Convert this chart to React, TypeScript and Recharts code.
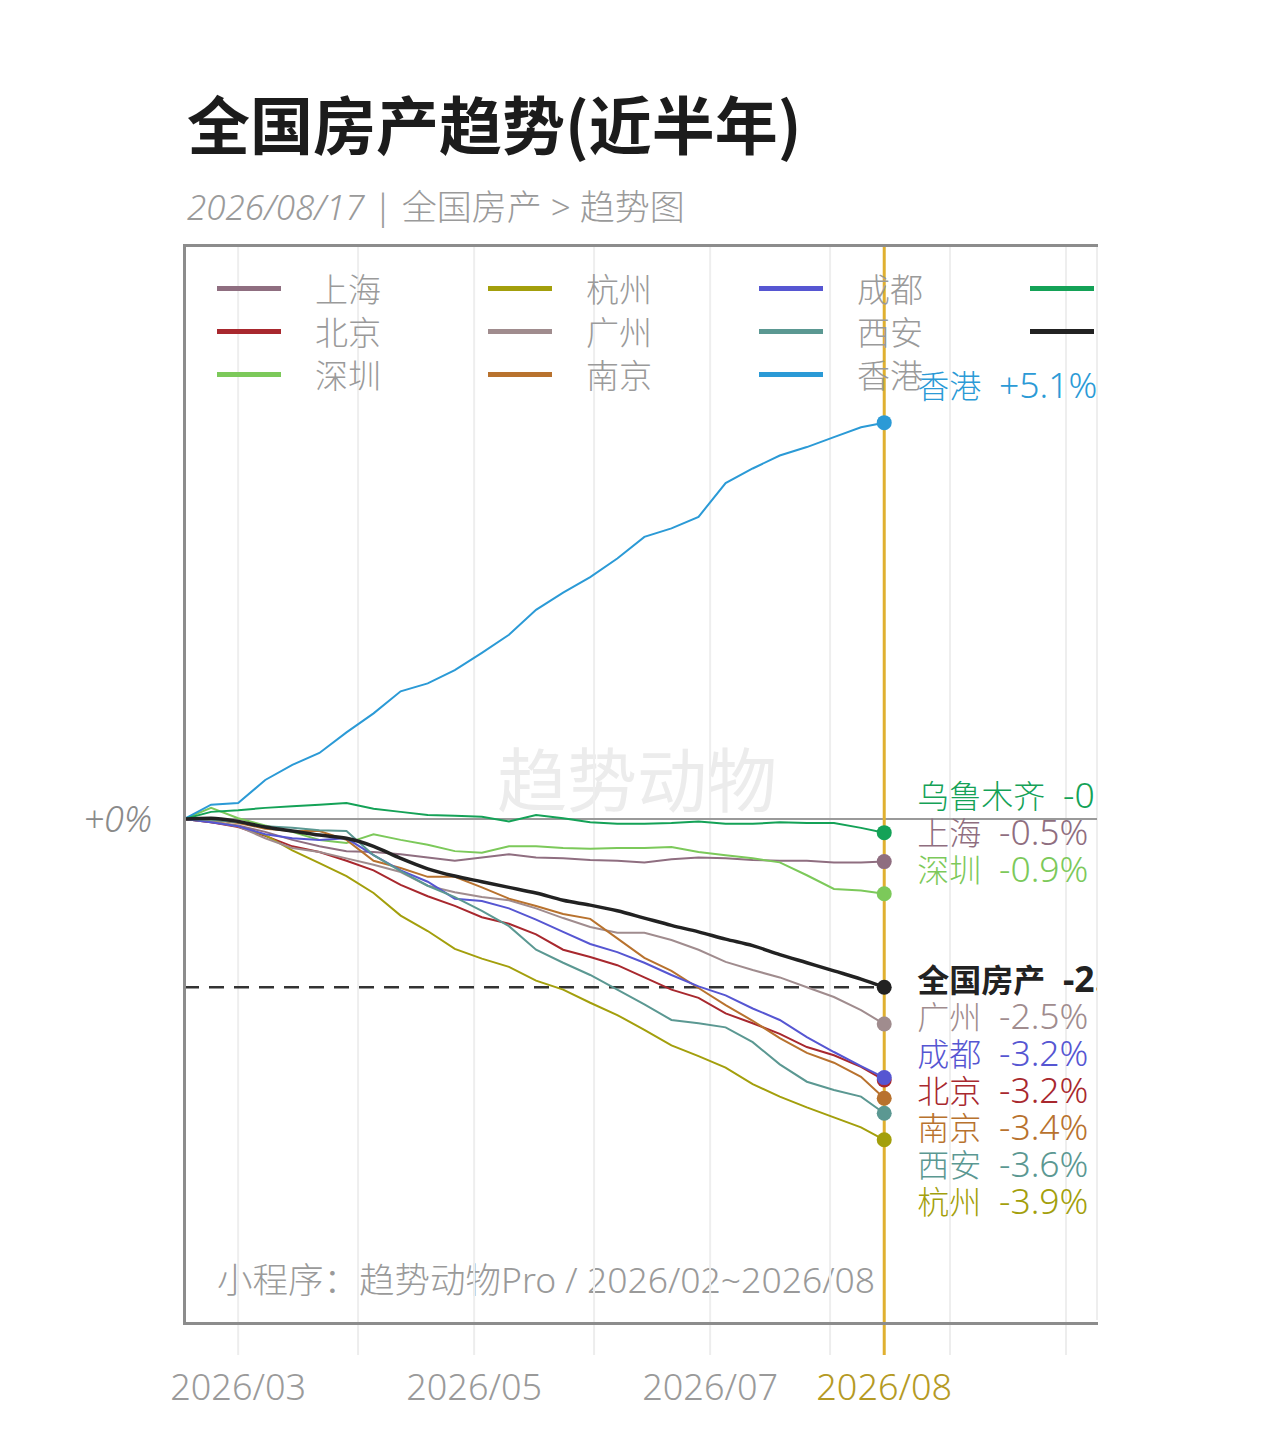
import React from 'react'
import { LineChart, Line, XAxis, YAxis, CartesianGrid, ReferenceLine } from 'recharts'

// weekly sample dates
const dates = [
  '2026-02-15', '2026-02-22', '2026-03-01', '2026-03-08', '2026-03-15', '2026-03-22', '2026-03-29',
  '2026-04-05', '2026-04-12', '2026-04-19', '2026-04-26', '2026-05-03', '2026-05-10', '2026-05-17',
  '2026-05-24', '2026-05-31', '2026-06-07', '2026-06-14', '2026-06-21', '2026-06-28', '2026-07-05',
  '2026-07-12', '2026-07-19', '2026-07-26', '2026-08-02', '2026-08-09', '2026-08-15',
]

// change since start, in %
const shanghai = [0, -0.04, -0.08, -0.16, -0.26, -0.34, -0.4, -0.41, -0.44, -0.48, -0.52, -0.48, -0.44, -0.48, -0.49, -0.51, -0.52, -0.54, -0.5, -0.48, -0.49, -0.51, -0.52, -0.52, -0.54, -0.54, -0.53]
const beijing = [0, -0.04, -0.1, -0.21, -0.34, -0.41, -0.52, -0.64, -0.82, -0.96, -1.08, -1.22, -1.3, -1.43, -1.62, -1.71, -1.81, -1.96, -2.11, -2.21, -2.4, -2.52, -2.65, -2.81, -2.91, -3.05, -3.21]
const shenzhen = [0, 0.14, 0.01, -0.08, -0.16, -0.26, -0.3, -0.19, -0.26, -0.32, -0.4, -0.42, -0.34, -0.34, -0.36, -0.37, -0.36, -0.36, -0.35, -0.41, -0.45, -0.49, -0.54, -0.7, -0.87, -0.89, -0.93]
const hangzhou = [0, -0.03, -0.09, -0.2, -0.39, -0.55, -0.71, -0.92, -1.2, -1.39, -1.61, -1.73, -1.83, -2.0, -2.11, -2.27, -2.42, -2.6, -2.79, -2.92, -3.06, -3.26, -3.41, -3.54, -3.66, -3.78, -3.93]
const guangzhou = [0, -0.03, -0.09, -0.24, -0.36, -0.41, -0.49, -0.57, -0.66, -0.83, -0.91, -0.97, -1.01, -1.11, -1.23, -1.34, -1.41, -1.41, -1.5, -1.62, -1.77, -1.87, -1.96, -2.08, -2.2, -2.36, -2.53]
const nanjing = [0, -0.01, -0.05, -0.12, -0.15, -0.15, -0.26, -0.52, -0.61, -0.72, -0.72, -0.85, -0.99, -1.08, -1.18, -1.24, -1.48, -1.72, -1.88, -2.09, -2.3, -2.49, -2.7, -2.88, -3.0, -3.17, -3.43]
const chengdu = [0, -0.04, -0.09, -0.19, -0.24, -0.26, -0.24, -0.45, -0.64, -0.78, -0.99, -1.02, -1.11, -1.25, -1.4, -1.55, -1.65, -1.78, -1.93, -2.07, -2.18, -2.34, -2.48, -2.69, -2.87, -3.04, -3.18]
const xian = [0, -0.01, -0.04, -0.09, -0.11, -0.14, -0.15, -0.45, -0.65, -0.83, -0.97, -1.14, -1.33, -1.62, -1.78, -1.93, -2.11, -2.29, -2.48, -2.52, -2.57, -2.75, -3.02, -3.23, -3.33, -3.41, -3.61]
const hongkong = [0, 0.18, 0.2, 0.49, 0.68, 0.83, 1.09, 1.33, 1.61, 1.71, 1.88, 2.1, 2.33, 2.65, 2.87, 3.07, 3.31, 3.59, 3.7, 3.85, 4.29, 4.48, 4.65, 4.76, 4.89, 5.02, 5.08]
const urumqi = [0, 0.09, 0.11, 0.14, 0.16, 0.18, 0.2, 0.13, 0.09, 0.05, 0.04, 0.03, -0.03, 0.05, 0.01, -0.04, -0.06, -0.06, -0.05, -0.03, -0.06, -0.06, -0.04, -0.05, -0.05, -0.11, -0.17]
const national = [0, 0.01, -0.03, -0.1, -0.15, -0.2, -0.24, -0.34, -0.49, -0.62, -0.71, -0.78, -0.85, -0.92, -1.01, -1.07, -1.14, -1.23, -1.32, -1.4, -1.49, -1.57, -1.68, -1.78, -1.88, -1.98, -2.08]

const names = ['上海', '北京', '深圳', '杭州', '广州', '南京', '成都', '西安', '香港', '乌鲁木齐', '全国房产']
const values = [shanghai, beijing, shenzhen, hangzhou, guangzhou, nanjing, chengdu, xian, hongkong, urumqi, national]
const colors = ['#8f6e80', '#a8282e', '#7cc95a', '#a39f0c', '#a08c8e', '#b8722e', '#5656d2', '#5b9892', '#2b9ad6', '#14a257', '#222222']
const NATIONAL = '全国房产'

const monthTicks = ['2026-03-01', '2026-04-01', '2026-05-01', '2026-06-01', '2026-07-01', '2026-08-01', '2026-09-01', '2026-10-01']
const tickLabels: Record<string, string> = { '2026-03-01': '2026/03', '2026-05-01': '2026/05', '2026-07-01': '2026/07' }
const latestLabel = '2026/08'
const xStart = '2026-02-15'
const xEnd = '2026-10-09'

const CJK = "'Noto Sans CJK SC', sans-serif"
const MIXED = "'Noto Sans', 'Noto Sans CJK SC', sans-serif"
const GOLD = '#e0b030'
const Y_MIN = 93.93
const Y_MAX = 107.44
const PLOT = { left: 184, top: 245, right: 1097, bottom: 1320 }
const X_AXIS_H = 80

const ts = (s: string) => Date.UTC(+s.slice(0, 4), +s.slice(5, 7) - 1, +s.slice(8, 10))
const last = dates.length - 1
const lastTs = ts(dates[last])

const data = dates.map((d, i) => {
  const row: Record<string, number> = { t: ts(d) }
  names.forEach((n, s) => (row[n] = 100 + values[s][i]))
  return row
})

// end labels: city labels sit above their dot, the national one beside it; overlaps pushed down
const K = (PLOT.bottom - PLOT.top) / Math.log(Y_MAX / Y_MIN)
const rel = values.map((v) => -K * Math.log(1 + v[last] / 100))
const labelOffset: number[] = new Array(names.length).fill(0)
{
  const order = names.map((_, i) => i).sort((a, b) => rel[a] - rel[b])
  let prev = -Infinity
  order.forEach((i) => {
    const lift = names[i] === NATIONAL ? 9 : 39
    const pos = Math.max(rel[i] - lift, prev + 37)
    labelOffset[i] = pos - rel[i]
    prev = pos
  })
}

const fmt = (p: number) => `${p >= 0 ? '+' : ''}${p.toFixed(1)}%`

const makeDot = (si: number) => (props: any) => {
  const { cx, cy, index } = props
  if (index !== last) return <g key={`d${si}-${index}`} />
  const bold = names[si] === NATIONAL
  return (
    <g key={`d${si}-${index}`}>
      <circle cx={cx} cy={cy} r={7.5} fill={colors[si]} />
      <text
        x={cx + 33}
        y={cy + labelOffset[si]}
        dominantBaseline="central"
        fontWeight={bold ? 700 : 300}
        fill={colors[si]}
        style={{ whiteSpace: 'pre' }}
      >
        <tspan fontSize={32} fontFamily={CJK}>{names[si]}</tspan>
        <tspan fontSize={35.5} fontFamily={MIXED}>{'\u2002' + fmt(values[si][last])}</tspan>
      </text>
    </g>
  )
}

const XTick = (props: any) => {
  const { x, y, payload } = props
  const isLast = payload.value === lastTs
  const key = monthTicks.find((m) => ts(m) === payload.value)
  const label = isLast ? latestLabel : key ? tickLabels[key] : undefined
  return (
    <g>
      <line x1={x} x2={x} y1={y} y2={y + 35} stroke={isLast ? GOLD : '#ededed'} strokeWidth={isLast ? 3 : 2} />
      {label && (
        <text
          x={x}
          y={y + 66}
          textAnchor="middle"
          dominantBaseline="central"
          fontSize={36}
          fontWeight={300}
          fill={isLast ? '#b59a24' : '#9a9a9a'}
          fontFamily={MIXED}
        >
          {label}
        </text>
      )}
    </g>
  )
}

const abs = (left: number, top: number, extra: React.CSSProperties = {}): React.CSSProperties => ({
  position: 'absolute',
  left,
  top,
  whiteSpace: 'nowrap',
  fontFamily: MIXED,
  ...extra,
})

export default function App() {
  return (
    <div style={{ position: 'absolute', left: 0, top: 0, width: 1280, height: 1443, background: '#fff', fontFamily: CJK }}>
      <div style={abs(187, 90, { fontFamily: CJK, fontSize: 63, lineHeight: '63px', fontWeight: 700, color: '#1c1c1c' })}>
        全国房产趋势(近半年)
      </div>
      <div style={abs(187, 189, { fontSize: 35, lineHeight: '35px', fontWeight: 300, color: '#9a9a9a' })}>
        <span style={{ fontStyle: 'italic' }}>2026/08/17</span> | 全国房产 &gt; 趋势图
      </div>
      <div style={abs(0, 801, { width: 152, textAlign: 'right', fontSize: 36, lineHeight: '36px', fontStyle: 'italic', fontWeight: 300, color: '#8a8a8a' })}>
        +0%
      </div>

      <div style={{ position: 'absolute', left: 0, top: 0, width: PLOT.right + 1, height: 1443, overflow: 'hidden' }}>
        <div style={abs(497, 742, { fontFamily: CJK, fontSize: 70, lineHeight: '70px', color: '#ececec' })}>趋势动物</div>
        <div style={abs(217, 1262, { fontSize: 35.5, lineHeight: '35px', fontWeight: 300, color: '#9a9a9a' })}>
          小程序：趋势动物Pro / 2026/02~2026/08
        </div>
        <div style={{ position: 'absolute', left: 0, top: 0 }}>
          <LineChart
            width={1280}
            height={1443}
            data={data}
            margin={{ top: PLOT.top, left: PLOT.left, right: 1280 - PLOT.right, bottom: 1443 - PLOT.bottom - X_AXIS_H }}
          >
            <CartesianGrid horizontal={false} stroke="#eeeeee" strokeWidth={2} />
            <XAxis
              dataKey="t"
              type="number"
              domain={[ts(xStart), ts(xEnd)]}
              ticks={[...monthTicks.map(ts), lastTs]}
              tick={<XTick />}
              tickLine={false}
              axisLine={false}
              tickSize={0}
              tickMargin={0}
              height={X_AXIS_H}
              interval={0}
              allowDataOverflow
            />
            <YAxis hide type="number" scale="log" domain={[Y_MIN, Y_MAX]} allowDataOverflow />
            <ReferenceLine y={100} stroke="#9a9a9a" strokeWidth={2} />
            <ReferenceLine x={lastTs} stroke={GOLD} strokeWidth={3} />
            <ReferenceLine
              segment={[
                { x: ts(xStart), y: 100 + national[last] },
                { x: lastTs, y: 100 + national[last] },
              ]}
              stroke="#333"
              strokeWidth={2.5}
              strokeDasharray="15 10"
            />
            {names.map((n, si) => (
              <Line
                key={n}
                dataKey={n}
                type={n === NATIONAL ? 'monotone' : 'linear'}
                stroke={colors[si]}
                strokeWidth={n === NATIONAL ? 3.5 : 2}
                dot={makeDot(si)}
                activeDot={false}
                isAnimationActive={false}
              />
            ))}
          </LineChart>
        </div>
        {names.map((n, i) => (
          <div
            key={n}
            style={abs(217 + Math.floor(i / 3) * 271, 268 + (i % 3) * 43, {
              display: 'flex',
              alignItems: 'center',
              height: 40,
              fontFamily: CJK,
              fontSize: 33,
              fontWeight: 300,
              color: '#9a9a9a',
            })}
          >
            <span style={{ display: 'inline-block', width: 64, height: 5, background: colors[i], marginRight: 34 }} />
            {n}
          </div>
        ))}
        <div
          style={{
            position: 'absolute',
            left: PLOT.left - 1.5,
            top: PLOT.top - 1.5,
            width: PLOT.right - PLOT.left,
            height: PLOT.bottom - PLOT.top,
            border: '3px solid #8c8c8c',
          }}
        />
      </div>
    </div>
  )
}
